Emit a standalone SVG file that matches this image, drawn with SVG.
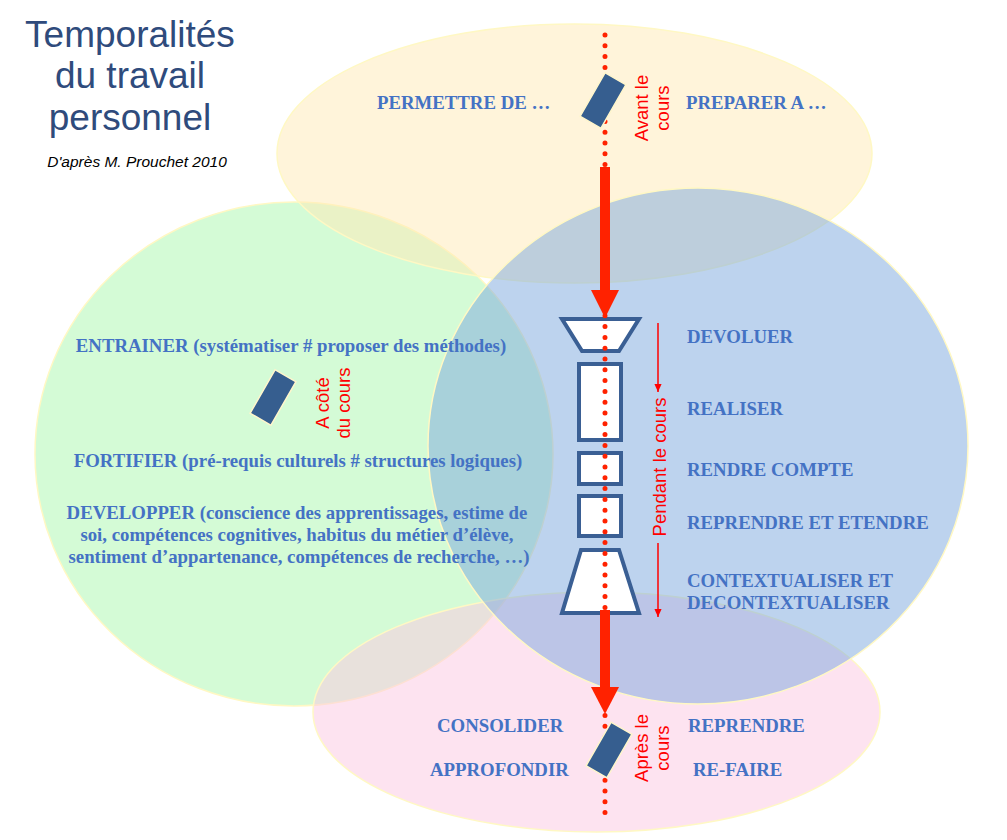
<svg xmlns="http://www.w3.org/2000/svg" width="1007" height="840" viewBox="0 0 1007 840">
<style>
.zone{stroke:#FFF8C4;stroke-width:1.5;fill-opacity:0.5}
.lbl{font-family:"Liberation Serif","Times New Roman",serif;font-weight:bold;font-size:18.8px;fill:#4472C4}
.red{font-family:"Liberation Sans",Arial,sans-serif;font-size:18.5px;fill:#FF0000}
.title{font-family:"Liberation Sans",Arial,sans-serif;font-size:37px;fill:#2F4B7C}
.box{fill:#FFFFFF;stroke:#3A5F94;stroke-width:4;stroke-linejoin:miter}
.tag{fill:#365E8F;stroke:#FFF6CC;stroke-width:1.5}
.bigarrow{fill:#FF2200}
</style>
<defs>
<marker id="ahd" markerWidth="8" markerHeight="9" refX="9" refY="4" orient="auto" markerUnits="userSpaceOnUse" viewBox="0 0 9 8">
<path d="M0,0 L9,4 L0,8 Z" fill="#FF0000"/>
</marker>
</defs>
<rect width="1007" height="840" fill="#FFFFFF"/>

<g id="zones">
<ellipse id="zone-cote" class="zone" cx="294" cy="454" rx="259" ry="252" fill="#A9F7AD"/>
<ellipse id="zone-avant" class="zone" cx="574.5" cy="153.5" rx="297.5" ry="129.5" fill="#FFE9B5"/>
<ellipse id="zone-apres" class="zone" cx="596.5" cy="712" rx="283.5" ry="120" fill="#FBC7E1"/>
<ellipse id="zone-pendant" class="zone" cx="698" cy="446" rx="270" ry="258" fill="#7BA7DD"/>
</g>

<g id="title">
<text class="title" text-anchor="middle"><tspan x="130" y="47">Temporalités</tspan><tspan x="130" y="88">du travail</tspan><tspan x="130" y="130">personnel</tspan></text>
<text x="137" y="167" text-anchor="middle" font-family="'Liberation Sans',Arial,sans-serif" font-style="italic" font-size="15.5" fill="#000000">D'après M. Prouchet 2010</text>
</g>

<g id="funnel">
<polygon class="box" points="562,319 639,319 619,351 582,351"/>
<rect class="box" x="579" y="364" width="42" height="76"/>
<rect class="box" x="579" y="453" width="42" height="31"/>
<rect class="box" x="579" y="496" width="42" height="40"/>
<polygon class="box" points="581,550 619,550 639,613 562,613"/>
</g>

<g id="connectors">
<line x1="605" y1="35" x2="605" y2="822" stroke="#FF2200" stroke-width="5" stroke-linecap="round" stroke-dasharray="0 10.8"/>
<g id="arrow-avant-pendant" class="bigarrow">
<rect x="600" y="167" width="10" height="125"/>
<polygon points="591,290 619,290 605,318"/>
</g>
<g id="arrow-pendant-apres" class="bigarrow">
<rect x="600" y="610" width="10" height="79"/>
<polygon points="591,687 619,687 605,714"/>
</g>
<line x1="658" y1="323" x2="658" y2="392" stroke="#FF0000" stroke-width="1.5" marker-end="url(#ahd)"/>
<line x1="658" y1="543" x2="658" y2="617" stroke="#FF0000" stroke-width="1.5" marker-end="url(#ahd)"/>
</g>

<g id="tags">
<rect class="tag" x="-12" y="-25" width="24" height="50" transform="translate(603,100.5) rotate(30)"/>
<rect class="tag" x="-12" y="-25" width="24" height="50" transform="translate(273,397.5) rotate(30)"/>
<rect class="tag" x="-12" y="-25" width="24" height="50" transform="translate(609,750) rotate(30)"/>
</g>

<g id="time-labels">
<text class="red" text-anchor="middle" transform="translate(648,108) rotate(-90)"><tspan x="0" y="0">Avant le</tspan><tspan x="0" y="21">cours</tspan></text>
<text class="red" text-anchor="middle" transform="translate(329,403) rotate(-90)"><tspan x="0" y="0">A côté</tspan><tspan x="0" y="20.5">du cours</tspan></text>
<text class="red" text-anchor="middle" transform="translate(648,748) rotate(-90)"><tspan x="0" y="0">Après le</tspan><tspan x="0" y="21">cours</tspan></text>
<text class="red" text-anchor="middle" transform="translate(666,467) rotate(-90)" x="0" y="0">Pendant le cours</text>
</g>

<g id="node-avant">
<text class="lbl" x="377" y="109">PERMETTRE DE …</text>
<text class="lbl" x="686" y="109">PREPARER A …</text>
</g>

<g id="node-pendant">
<text class="lbl" x="687" y="343">DEVOLUER</text>
<text class="lbl" x="687" y="415">REALISER</text>
<text class="lbl" x="687" y="476">RENDRE COMPTE</text>
<text class="lbl" x="687" y="529">REPRENDRE ET ETENDRE</text>
<text class="lbl"><tspan x="687" y="587">CONTEXTUALISER ET</tspan><tspan x="687" y="609">DECONTEXTUALISER</tspan></text>
</g>

<g id="node-cote">
<text class="lbl" x="291" y="352" text-anchor="middle">ENTRAINER (systématiser # proposer des méthodes)</text>
<text class="lbl" x="298" y="467" text-anchor="middle">FORTIFIER (pré-requis culturels # structures logiques)</text>
<text class="lbl" text-anchor="middle"><tspan x="297" y="519">DEVELOPPER (conscience des apprentissages, estime de</tspan><tspan x="297" y="541">soi, compétences cognitives, habitus du métier d’élève,</tspan><tspan x="299" y="563">sentiment d’appartenance, compétences de recherche, …)</tspan></text>
</g>

<g id="node-apres">
<text class="lbl" x="437" y="732">CONSOLIDER</text>
<text class="lbl" x="430" y="776">APPROFONDIR</text>
<text class="lbl" x="688" y="732">REPRENDRE</text>
<text class="lbl" x="693" y="776">RE-FAIRE</text>
</g>
</svg>
